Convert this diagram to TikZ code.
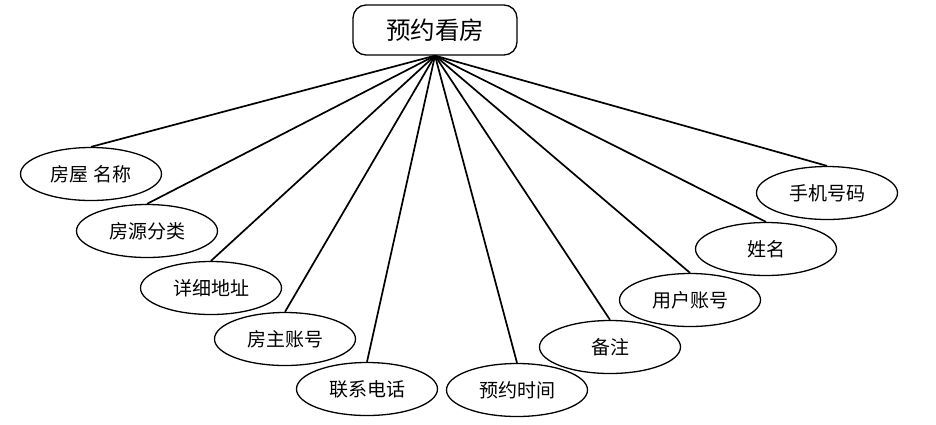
\documentclass[tikz,border=0pt]{standalone}
\usepackage{fontspec}
\setmainfont{Noto Sans CJK SC}
\usetikzlibrary{shapes.geometric}
\tikzset{
  attr/.style={ellipse,draw,line width=1.3pt,minimum width=141pt,minimum height=53pt,inner sep=0pt,font=\fontsize{19}{22}\selectfont},
  ent/.style={draw,rounded corners=13pt,line width=1.3pt,minimum width=164pt,minimum height=50pt,inner sep=0pt,font=\fontsize{24.5}{28}\selectfont},
  link/.style={line width=1.7pt}
}
\begin{document}
\begin{tikzpicture}[x=1pt,y=-1pt]
\useasboundingbox (0,0) rectangle (936,424);
\node[ent] (e) at (435,30) {预约看房};
\node[attr] (a1) at (91,174) {房屋\hspace{0.3em}名称};
\node[attr] (a2) at (147,231) {房源分类};
\node[attr] (a3) at (211,288) {详细地址};
\node[attr] (a4) at (285,339) {房主账号};
\node[attr] (a5) at (367,389) {联系电话};
\node[attr] (a6) at (517,390) {预约时间};
\node[attr] (a7) at (610,347) {备注};
\node[attr] (a8) at (690,300) {用户账号};
\node[attr] (a9) at (766,249) {姓名};
\node[attr] (a10) at (827,193) {手机号码};
\foreach \i in {1,...,10} \draw[link] (e.south) -- (a\i.north);
\end{tikzpicture}
\end{document}
